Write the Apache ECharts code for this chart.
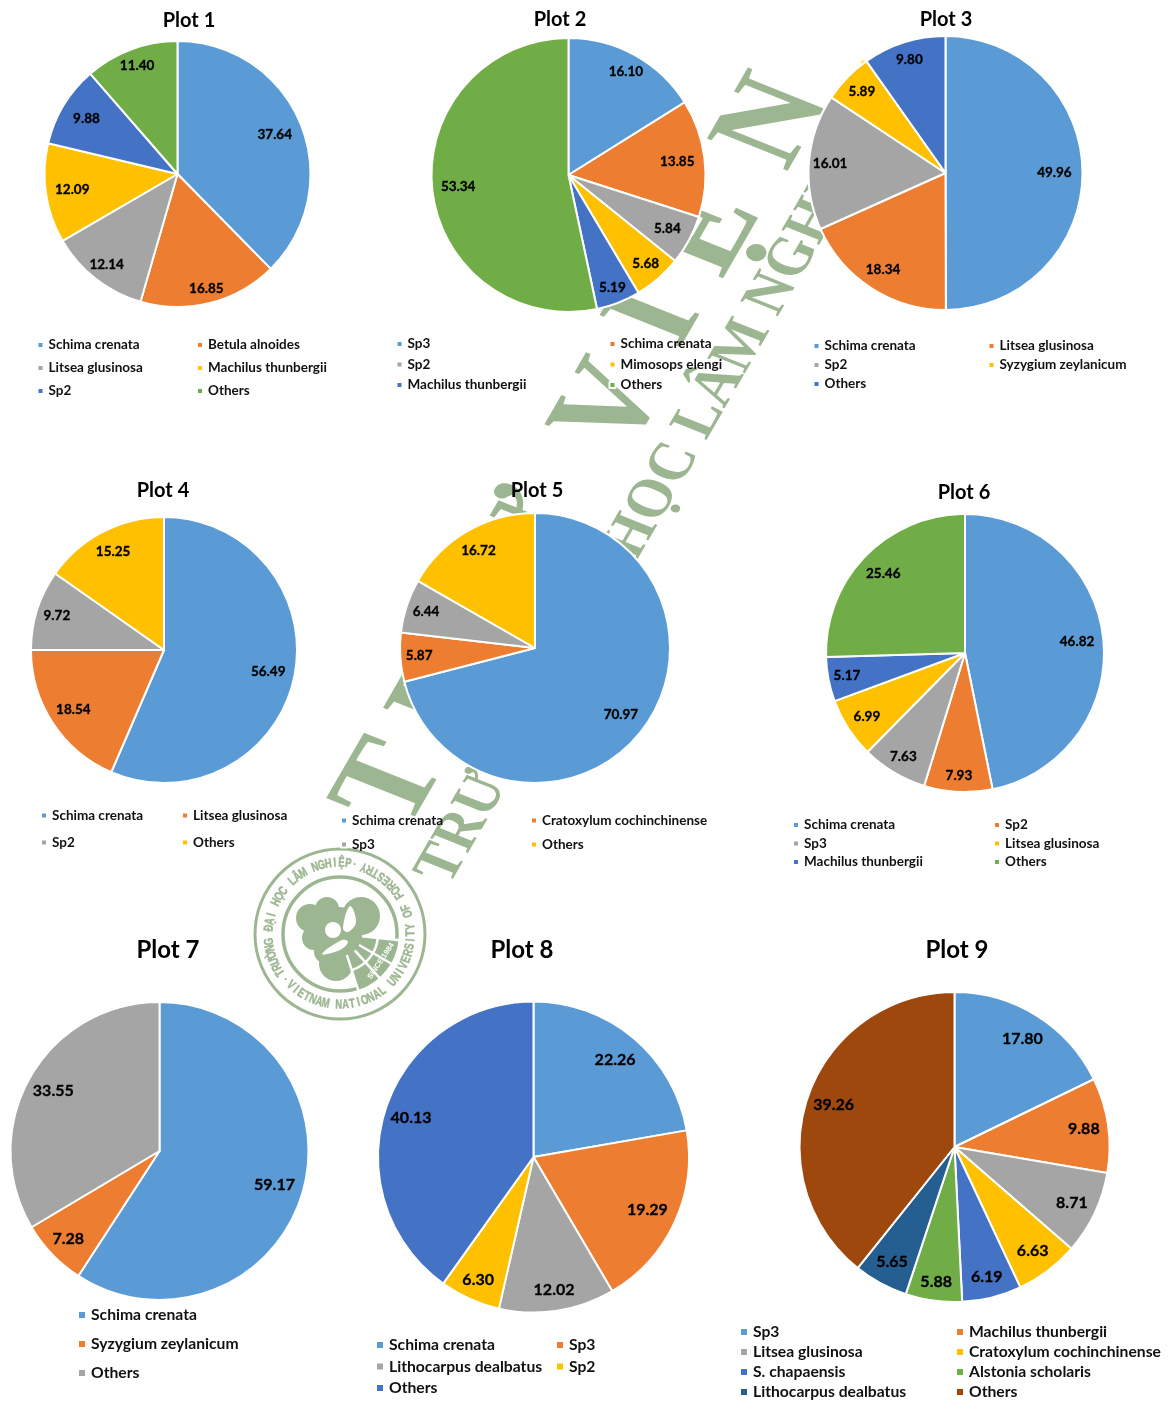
<!DOCTYPE html>
<html>
<head>
<meta charset="utf-8">
<style>
  html, body { margin: 0; padding: 0; background: #fff; }
  #main { width: 1174px; height: 1401px; }
</style>
<script src="https://cdn.jsdelivr.net/npm/echarts@6/dist/echarts.min.js"></script>
</head>
<body>
<div id="main"></div>
<script>
const plot1Names = ["Schima crenata", "Betula alnoides", "Litsea glusinosa", "Machilus thunbergii", "Sp2", "Others"];
const plot1Values = [37.64, 16.85, 12.14, 12.09, 9.88, 11.40];
const plot2Names = ["Sp3", "Schima crenata", "Sp2", "Mimosops elengi", "Machilus thunbergii", "Others"];
const plot2Values = [16.10, 13.85, 5.84, 5.68, 5.19, 53.34];
const plot3Names = ["Schima crenata", "Litsea glusinosa", "Sp2", "Syzygium zeylanicum", "Others"];
const plot3Values = [49.96, 18.34, 16.01, 5.89, 9.80];
const plot4Names = ["Schima crenata", "Litsea glusinosa", "Sp2", "Others"];
const plot4Values = [56.49, 18.54, 9.72, 15.25];
const plot5Names = ["Schima crenata", "Cratoxylum cochinchinense", "Sp3", "Others"];
const plot5Values = [70.97, 5.87, 6.44, 16.72];
const plot6Names = ["Schima crenata", "Sp2", "Sp3", "Litsea glusinosa", "Machilus thunbergii", "Others"];
const plot6Values = [46.82, 7.93, 7.63, 6.99, 5.17, 25.46];
const plot7Names = ["Schima crenata", "Syzygium zeylanicum", "Others"];
const plot7Values = [59.17, 7.28, 33.55];
const plot8Names = ["Schima crenata", "Sp3", "Lithocarpus dealbatus", "Sp2", "Others"];
const plot8Values = [22.26, 19.29, 12.02, 6.30, 40.13];
const plot9Names = ["Sp3", "Machilus thunbergii", "Litsea glusinosa", "Cratoxylum cochinchinense", "S. chapaensis", "Alstonia scholaris", "Lithocarpus dealbatus", "Others"];
const plot9Values = [17.80, 9.88, 8.71, 6.63, 6.19, 5.88, 5.65, 39.26];

const palette = ["#5B9BD5", "#ED7D31", "#A5A5A5", "#FFC000", "#4472C4", "#70AD47", "#255E91", "#9E480E"];
const fontName = "Lato";
const markGreen = "#9DB692";

// where each pie and its texts sit on the page
const layouts = [
  { names: plot1Names, values: plot1Values, c: [177.5, 174], r: 133, title: [189, 19], tf: 20, lf: 13.5, gf: 13.5, box: 6, cols: [36.5, 196], y: 345, step: 23, lr: [0.79, 0.887, 0.865, 0.80, 0.80, 0.867] },
  { names: plot2Names, values: plot2Values, c: [568.5, 175], r: 137, title: [560, 18], tf: 20, lf: 13.5, gf: 13.5, box: 6, cols: [395.5, 608.5], y: 344, step: 20.5, lr: [0.865, 0.80, 0.82, 0.86, 0.88, 0.81] },
  { names: plot3Names, values: plot3Values, c: [945.5, 173], r: 137, title: [946, 18], tf: 20, lf: 13.5, gf: 13.5, box: 6, cols: [812.5, 987.5], y: 346, step: 19, lr: [0.795, 0.84, 0.845, 0.85, 0.87] },
  { names: plot4Names, values: plot4Values, c: [164, 650], r: 133, title: [163, 489], tf: 20, lf: 13.5, gf: 13.5, box: 6, cols: [40, 181], y: 815.5, step: 27, lr: [0.80, 0.815, 0.845, 0.83] },
  { names: plot5Names, values: plot5Values, c: [535, 648], r: 135, title: [537, 489], tf: 20, lf: 13.5, gf: 13.5, box: 6, cols: [340, 530], y: 820.5, step: 24, lr: [0.805, 0.86, 0.85, 0.835] },
  { names: plot6Names, values: plot6Values, c: [965, 653], r: 139, title: [964, 491], tf: 20, lf: 13.5, gf: 13.5, box: 6, cols: [792, 993], y: 825, step: 18.5, lr: [0.81, 0.885, 0.865, 0.84, 0.865, 0.82] },
  { names: plot7Names, values: plot7Values, c: [159.5, 1151], r: 149, title: [168, 948], tf: 24, lf: 16, gf: 15.7, box: 8, cols: [77], y: 1315, step: 29, lr: [0.805, 0.85, 0.82] },
  { names: plot8Names, values: plot8Values, c: [533.5, 1157], r: 155.5, title: [522, 948], tf: 24, lf: 16, gf: 15.7, box: 8, cols: [375, 555], y: 1345, step: 21.5, lr: [0.815, 0.807, 0.865, 0.868, 0.827] },
  { names: plot9Names, values: plot9Values, c: [954.5, 1147], r: 155, title: [957, 948], tf: 24, lf: 16, gf: 15.7, box: 8, cols: [739, 955], y: 1332, step: 20, lr: [0.825, 0.843, 0.838, 0.837, 0.86, 0.878, 0.845, 0.826] }
];

// places a pie label along the slice's middle angle, at a share of the radius
function labelSpot(plot, i) {
  const total = plot.values.reduce((a, b) => a + b, 0);
  const before = plot.values.slice(0, i).reduce((a, b) => a + b, 0);
  const angle = ((before + plot.values[i] / 2) / total) * Math.PI * 2;
  const dist = plot.r * plot.lr[i];
  return { x: plot.c[0] + dist * Math.sin(angle), y: plot.c[1] - dist * Math.cos(angle) };
}

const series = layouts.map((plot) => ({
  type: "pie",
  name: plot.title.join(),
  center: plot.c,
  radius: plot.r,
  startAngle: 90,
  animation: false,
  silent: true,
  avoidLabelOverlap: false,
  itemStyle: { borderColor: "#fff", borderWidth: 2 },
  label: {
    show: true,
    position: "inside",
    color: "#000",
    textBorderColor: "#000",
    textBorderWidth: 0.3,
    fontFamily: fontName,
    fontWeight: "bold",
    fontSize: plot.lf,
    formatter: (p) => p.value.toFixed(2)
  },
  labelLayout: (p) => Object.assign(labelSpot(plot, p.dataIndex), { align: "center", verticalAlign: "middle" }),
  data: plot.values.map((v, i) => ({
    name: plot.names[i],
    value: v,
    itemStyle: { color: palette[i] }
  }))
}));

const titles = layouts.map((plot, i) => ({
  text: "Plot " + (i + 1),
  left: plot.title[0],
  top: plot.title[1] - plot.tf * 0.42,
  textAlign: "center",
  padding: 0,
  textStyle: { fontFamily: fontName, fontWeight: "bold", fontSize: plot.tf, color: "#000" }
}));

const legends = [];
layouts.forEach((plot) => {
  plot.cols.forEach((x, col) => {
    const picked = [];
    plot.names.forEach((name, i) => {
      if (i % plot.cols.length === col) {
        picked.push({ name: name, itemStyle: { color: palette[i] } });
      }
    });
    legends.push({
      orient: "vertical",
      left: x,
      top: plot.y - 8,
      padding: 0,
      icon: "rect",
      itemWidth: plot.box,
      itemHeight: plot.box,
      itemGap: plot.step - 16,
      selectedMode: false,
      textStyle: { fontFamily: fontName, fontWeight: "bold", fontSize: plot.gf, color: "#111", lineHeight: 16 },
      data: picked
    });
  });
});

// diagonal watermark and round seal behind the pies
function markText(text, x, y, deg, font, fill, align, squeeze) {
  return {
    type: "text",
    x: x,
    y: y,
    rotation: (deg * Math.PI) / 180,
    scaleX: squeeze || 1,
    silent: true,
    style: { text: text, font: font, fill: fill || markGreen, align: align || "center", verticalAlign: "middle" }
  };
}

// the scanned watermark is stretched sideways, so the rotated text sits in a stretched group
function stretchedText(text, x, y, font, align) {
  const inner = markText(text, 0, 0, 64.3, font, markGreen, align);
  return { type: "group", x: x, y: y, scaleX: 1.2, silent: true, children: [inner] };
}

const bigLetters = [["T", 394, 785], ["H", 454, 689], ["Ư", 534, 543], ["V", 614, 408], ["I", 658, 318], ["Ệ", 710, 233], ["N", 776, 123]];
const sealTop = "TRƯỜNG ĐẠI HỌC LÂM NGHIỆP";
const sealBottom = "VIETNAM NATIONAL UNIVERSITY OF FORESTRY";
const sealC = [340, 934];

function sealChars(str, startDeg, stepDeg, inward) {
  return str.split("").map((ch, i) => {
    const deg = startDeg + i * stepDeg;
    const a = (deg * Math.PI) / 180;
    const item = markText(ch, sealC[0] + 71 * Math.sin(a), sealC[1] - 71 * Math.cos(a), inward ? 180 - deg : -deg, "bold 13px 'Liberation Sans'", markGreen, "center", 0.72);
    item.style.stroke = markGreen;
    item.style.lineWidth = 0.5;
    return item;
  });
}

function sealDisc(dx, dy, r, fill) {
  return { type: "circle", silent: true, shape: { cx: sealC[0] + dx, cy: sealC[1] + dy, r: r }, style: { fill: fill || markGreen } };
}

function sealPetal(pts) {
  return { type: "polygon", silent: true, shape: { smooth: 0.4, points: pts.map((p) => [sealC[0] + p[0], sealC[1] + p[1]]) }, style: { fill: "#fff" } };
}

function sealSpoke(deg) {
  const a = (deg * Math.PI) / 180;
  return { type: "line", silent: true, shape: { x1: sealC[0] + 22 * Math.cos(a), y1: sealC[1] + 22 * Math.sin(a), x2: sealC[0] + 60 * Math.cos(a), y2: sealC[1] + 60 * Math.sin(a) }, style: { stroke: "#fff", lineWidth: 2.5 } };
}

const graphics = [
  ...bigLetters.map((l) => stretchedText(l[0], l[1], l[2], "bold 114px 'Liberation Serif'", "center")),
  stretchedText("TRƯỜNG ĐẠI HỌC LÂM NGHIỆP", 434, 880, "bold 53px 'Liberation Serif'", "left"),
  { type: "circle", silent: true, shape: { cx: sealC[0], cy: sealC[1], r: 85 }, style: { fill: "#fff", stroke: markGreen, lineWidth: 3 } },
  { type: "circle", silent: true, shape: { cx: sealC[0], cy: sealC[1], r: 57 }, style: { fill: "#fff", stroke: markGreen, lineWidth: 3.5 } },
  sealDisc(-30, -16, 14), sealDisc(-13, -25, 12), sealDisc(21, -18, 19), sealDisc(0, -3, 24),
  sealDisc(-26, 4, 12), sealDisc(-4, 30, 17), sealDisc(-15, 18, 11), sealDisc(12, 10, 14),
  { type: "sector", silent: true, shape: { cx: sealC[0], cy: sealC[1], r0: 20, r: 57, startAngle: 0.1, endAngle: 1.25 }, style: { fill: markGreen } },
  sealSpoke(6), sealSpoke(30), sealSpoke(48), sealSpoke(72),
  { type: "arc", silent: true, shape: { cx: sealC[0], cy: sealC[1], r: 38, startAngle: 0.1, endAngle: 1.25 }, style: { stroke: "#fff", lineWidth: 2.5, fill: "none" } },
  sealDisc(-7, -4, 8, "#fff"),
  sealPetal([[3, -6], [10, -28], [16, -12], [8, -2]]),
  sealPetal([[-18, 20], [2, 6], [8, 8], [0, 16]]),
  markText("SINCE 1984", sealC[0] + 41, sealC[1] + 27, 56, "bold 7.5px 'Liberation Sans'", "#fff"),
  ...sealChars(sealTop, 237, 5.4, false),
  markText("·", sealC[0] + 71 * Math.sin(0.21), sealC[1] - 71 * Math.cos(0.21), 0, "bold 13px 'Liberation Sans'"),
  markText("·", sealC[0] + 71 * Math.sin(4.01), sealC[1] - 71 * Math.cos(4.01), 0, "bold 13px 'Liberation Sans'"),
  ...sealChars(sealBottom, 224, -5.38, true)
];

const chart = echarts.init(document.getElementById("main"));
chart.setOption({
  animation: false,
  backgroundColor: "#fff",
  title: titles,
  legend: legends,
  series: series,
  graphic: { elements: graphics }
});
</script>
</body>
</html>
